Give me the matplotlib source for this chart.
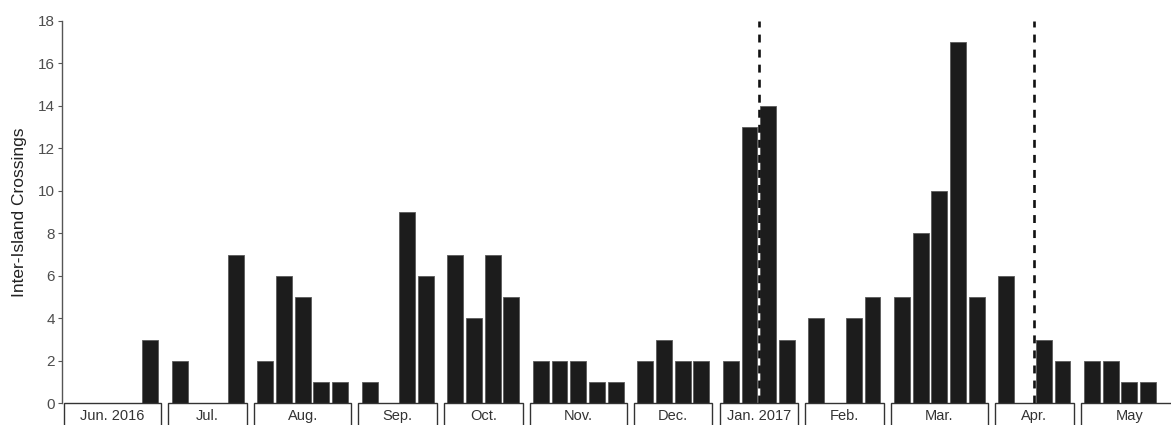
import matplotlib.pyplot as plt
from matplotlib.patches import Rectangle

plt.rcParams['font.family'] = ['Liberation Sans', 'DejaVu Sans']

# weekly inter-island crossings, grouped by month
months = ['Jun. 2016', 'Jul.', 'Aug.', 'Sep.', 'Oct.', 'Nov.', 'Dec.',
          'Jan. 2017', 'Feb.', 'Mar.', 'Apr.', 'May']
jun = [0, 0, 0, 0, 3]
jul = [2, 0, 0, 7]
aug = [2, 6, 5, 1, 1]
sep = [1, 0, 9, 6]
oct_ = [7, 4, 7, 5]
nov = [2, 2, 2, 1, 1]
dec = [2, 3, 2, 2]
jan = [2, 13, 14, 3]
feb = [4, 0, 4, 5]
mar = [5, 8, 10, 17, 5]
apr = [6, 0, 3, 2]
may = [2, 2, 1, 1, 0]
weekly = [jun, jul, aug, sep, oct_, nov, dec, jan, feb, mar, apr, may]

# dashed event markers: month label -> position between weeks
events = {'Jan. 2017': 2.5, 'Apr.': 2.5}

y_ticks = list(range(0, 19, 2))

fig = plt.figure(figsize=(11.71, 4.25), dpi=100)
ratios = [len(w) + 0.2 for w in weekly]
gs = fig.add_gridspec(1, len(weekly), width_ratios=ratios,
                      left=0.0547, right=1.006, bottom=0.051, top=0.951,
                      wspace=0.082)

for i, (label, vals) in enumerate(zip(months, weekly)):
    ax = fig.add_subplot(gs[0, i])
    xs = [k + 1 for k, v in enumerate(vals) if v > 0]
    hs = [v for v in vals if v > 0]
    ax.bar(xs, hs, width=0.85, color='#1c1c1c', edgecolor='#5a5a5a',
           linewidth=0.6)
    ax.set_xlim(0.4, len(vals) + 0.6)
    ax.set_ylim(0, 18)
    ax.set_xticks([])
    for s in ['top', 'right', 'bottom']:
        ax.spines[s].set_visible(False)
    if i == 0:
        ax.spines['left'].set_color('#555555')
        ax.spines['left'].set_linewidth(1.0)
        ax.spines['left'].set_position(('outward', 1.5))
        ax.set_yticks(y_ticks)
        ax.tick_params(axis='y', length=3, width=0.8, color='#555555',
                       labelsize=11, labelcolor='#4d4d4d', pad=2)
        ax.set_ylabel('Inter-Island Crossings', fontsize=12.5,
                      color='#222222', labelpad=8)
    else:
        ax.spines['left'].set_visible(False)
        ax.set_yticks([])
    if label in events:
        ax.axvline(events[label], color='#111111', linewidth=1.9,
                   linestyle=(0, (3, 2.7)))
    ax.add_patch(Rectangle((0, -0.09), 1, 0.09, transform=ax.transAxes,
                           clip_on=False, fill=False, edgecolor='#333333',
                           linewidth=1.0))
    ax.text(0.5, -0.034, label, transform=ax.transAxes, ha='center',
            va='center', fontsize=10.5, color='#333333')

fig.savefig('out.png', dpi=100)
